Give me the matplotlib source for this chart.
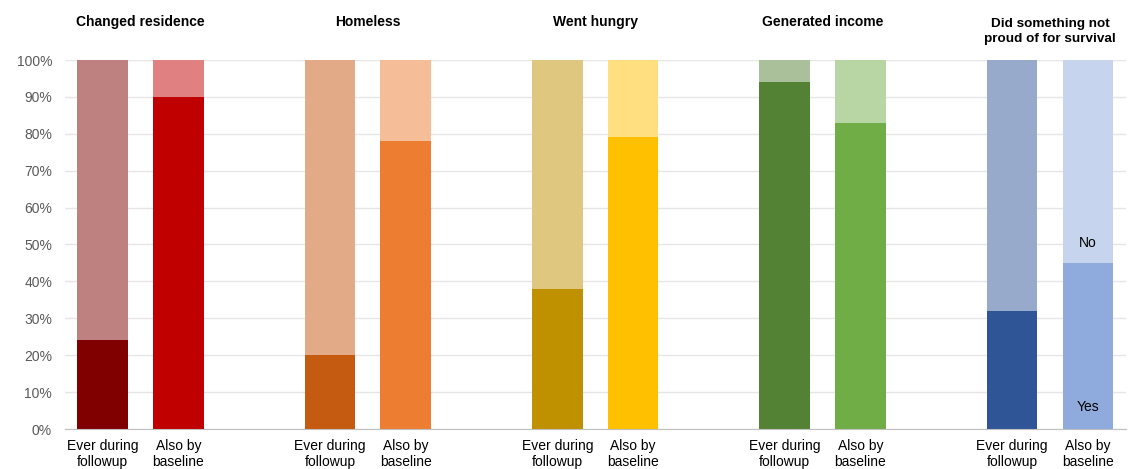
import matplotlib
matplotlib.use("Agg")
import matplotlib.pyplot as plt
import numpy as np

plt.rcParams['font.family'] = ['Liberation Sans', 'DejaVu Sans']

groups = ["Changed residence", "Homeless", "Went hungry", "Generated income",
          "Did something not\nproud of for survival"]
bar_labels = ["Ever during\nfollowup", "Also by\nbaseline"]
yes_ever = [24, 20, 38, 94, 32]
yes_base = [90, 78, 79, 83, 45]

yes_colors_ever = ["#800000", "#C55A11", "#BF9000", "#548235", "#2F5597"]
no_colors_ever = ["#BF8080", "#E2AA86", "#DFC77F", "#A9C09A", "#97AACB"]
yes_colors_base = ["#C00000", "#ED7D31", "#FFC000", "#70AD47", "#8FAADC"]
no_colors_base = ["#E08080", "#F5BD98", "#FFDF80", "#B8D6A3", "#C7D4ED"]

fig = plt.figure(figsize=(11.35, 4.69), dpi=100)
ax = fig.add_axes([64.6/1135, 1 - 429/469, (1125.8-64.6)/1135, (429-60)/469])

width = 0.67
xs, labels = [], []
for i in range(5):
    x0 = 3*i
    x1 = 3*i + 1
    ax.bar(x0, yes_ever[i], width, color=yes_colors_ever[i], zorder=2)
    ax.bar(x0, 100 - yes_ever[i], width, bottom=yes_ever[i], color=no_colors_ever[i], zorder=2)
    ax.bar(x1, yes_base[i], width, color=yes_colors_base[i], zorder=2)
    ax.bar(x1, 100 - yes_base[i], width, bottom=yes_base[i], color=no_colors_base[i], zorder=2)
    xs += [x0, x1]
    labels += bar_labels
    two = '\n' in groups[i]
    if two:
        ax.text(x0 + 0.5, (429 - 31.5)/369, groups[i],
                transform=ax.get_xaxis_transform(), ha='center', va='center',
                fontsize=9.7, fontweight='bold', linespacing=1.3)
    else:
        ax.text(x0 + 0.5, (429 - 26.5)/369, groups[i],
                transform=ax.get_xaxis_transform(), ha='center', va='baseline',
                fontsize=10, fontweight='bold')

ax.text(13, 50.5, "No", ha='center', va='center', fontsize=10, color='#000000')
ax.text(13, 6, "Yes", ha='center', va='center', fontsize=10, color='#000000')

ax.set_xlim(-0.5, 13.5)
ax.set_ylim(0, 100)
ax.set_yticks(np.arange(0, 101, 10))
ax.set_yticklabels([f"{v}%" for v in range(0, 101, 10)])
ax.set_xticks(xs)
ax.set_xticklabels(labels, fontsize=10, linespacing=1.2)
ax.tick_params(axis='y', length=0, pad=9, labelsize=10, labelcolor='#595959')
ax.tick_params(axis='x', length=0, pad=7, labelcolor='#000000')
ax.grid(axis='y', color='#E6E6E6', linewidth=1, zorder=0)
for s in ['top', 'right', 'left']:
    ax.spines[s].set_visible(False)
ax.spines['bottom'].set_color('#BFBFBF')
ax.spines['bottom'].set_zorder(3)

fig.savefig("out.png", dpi=100)
